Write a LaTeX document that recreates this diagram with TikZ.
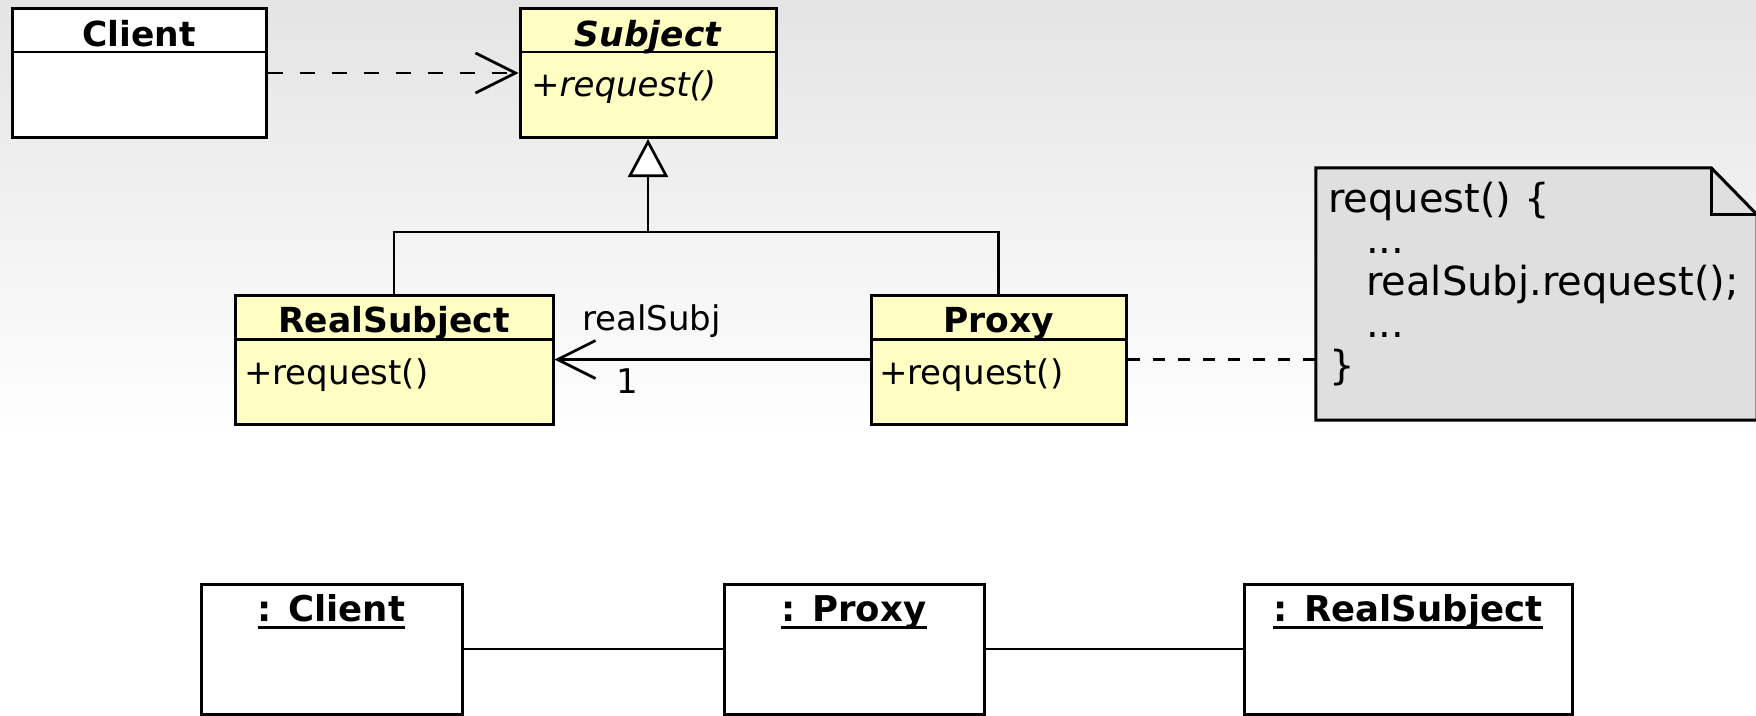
\documentclass[tikz,border=0pt]{standalone}
\usepackage{fontspec}
\setmainfont{DejaVu Sans}
\usetikzlibrary{arrows.meta,calc}
\definecolor{clsyellow}{RGB}{255,255,196}
\definecolor{notegray}{RGB}{223,223,223}
\definecolor{bgtop}{RGB}{228,228,228}
\begin{document}
\begin{tikzpicture}[x=1pt,y=-1pt,
  classbox/.style={draw=black, line width=3pt, fill=clsyellow, inner sep=0pt, minimum height=129pt},
  objbox/.style={draw=black, line width=3pt, fill=white, inner sep=0pt, minimum height=130pt},
  divider/.style={line width=2.5pt},
  cltitle/.style={font=\fontsize{34.5}{40}\selectfont\bfseries, anchor=base, inner sep=0pt},
  objtitle/.style={font=\fontsize{35.5}{40}\selectfont\bfseries, anchor=base, inner sep=0pt},
  member/.style={font=\fontsize{34}{40}\selectfont, anchor=base west, inner sep=0pt},
  notetext/.style={font=\fontsize{40}{42}\selectfont, anchor=base west, inner sep=0pt},
  conn/.style={line width=2.7pt},
  ulinestyle/.style={line width=3pt}
]
\useasboundingbox (0,0) rectangle (1756,715);
\shade[top color=bgtop, bottom color=white] (0,0) rectangle (1756,440);
\fill[white] (0,440) rectangle (1756,715);

% Client
\node[classbox, fill=white, minimum width=254pt] (client) at (139,73) {};
\draw[divider] ($(client.north west)+(0,45)$) -- ($(client.north east)+(0,45)$);
\node[cltitle] (clientT) at (139,46) {Client};

% Subject
\node[classbox, minimum width=256pt] (subject) at (648,73) {};
\draw[divider] ($(subject.north west)+(0,45)$) -- ($(subject.north east)+(0,45)$);
\node[cltitle, font=\fontsize{34.5}{40}\selectfont\bfseries\itshape] (subjectT) at (648,46) {Subject};
\node[member] (subjectM) at (531,96) {\itshape +request()};

% RealSubject
\node[classbox, minimum width=318pt] (realsub) at (394,359.5) {};
\draw[divider] ($(realsub.north west)+(0,46)$) -- ($(realsub.north east)+(0,46)$);
\node[cltitle] (realsubT) at (394,332) {RealSubject};
\node[member] (realsubM) at (244,384) {+request()};

% Proxy
\node[classbox, minimum width=255pt] (proxy) at (998.5,359.5) {};
\draw[divider] ($(proxy.north west)+(0,46)$) -- ($(proxy.north east)+(0,46)$);
\node[cltitle] (proxyT) at (998.5,332) {Proxy};
\node[member] (proxyM) at (879,384) {+request()};

% generalization
\coordinate (join) at (648,232);
\draw[conn, -{Triangle[length=38pt, width=40pt, fill=white]}] (join) -- (subject.south);
\draw[conn] (realsub.north) |- (join) -| (proxy.north);

% dependency
\draw[conn, dash pattern=on 15pt off 17pt, -{Straight Barb[length=40pt, width=40pt]}] (client.east) -- (subject.west);

% association
\draw[conn, -{Straight Barb[length=38pt, width=38pt]}] (proxy.west) -- (realsub.east);
\node[member] (roleLabel) at (582,330) {realSubj};
\node[member] (multLabel) at (616,393) {1};

% note
\node[inner sep=0pt, minimum width=441pt, minimum height=252pt] (note) at (1536.5,294) {};
\draw[line width=3pt, fill=notegray] (note.north west) -- ($(note.north east)+(-46,0)$) -- ($(note.north east)+(0,47)$) -- (note.south east) -- (note.south west) -- cycle;
\draw[line width=3pt] ($(note.north east)+(-46,0)$) -- ($(note.north east)+(-46,47)$) -- ($(note.north east)+(0,47)$);
\node[notetext] (nl1) at (1328,212) {request() \{};
\node[notetext] (nl2) at (1366,253) {...};
\node[notetext] (nl3) at (1366,295) {realSubj.request();};
\node[notetext] (nl4) at (1366,337) {...};
\node[notetext] (nl5) at (1329,379) {\}};
\draw[conn, dash pattern=on 12pt off 13pt] (proxy.east) -- (note.west |- proxy.east);

% object diagram
\node[objbox, minimum width=261pt] (oclient) at (331.5,649) {};
\node[objbox, minimum width=260pt] (oproxy) at (854,649) {};
\node[objbox, minimum width=328pt] (oreal) at (1408,649) {};
\node[objtitle] (oclientT) at (331.5,621) {: Client};
\node[objtitle] (oproxyT) at (854,621) {: Proxy};
\node[objtitle] (orealT) at (1408,621) {: RealSubject};
\draw[ulinestyle] ($(oclientT.base west)+(0,6)$) -- ($(oclientT.base east)+(0,6)$);
\draw[ulinestyle] ($(oproxyT.base west)+(0,6)$) -- ($(oproxyT.base east)+(0,6)$);
\draw[ulinestyle] ($(orealT.base west)+(0,6)$) -- ($(orealT.base east)+(0,6)$);
\draw[conn] (oclient.east) -- (oproxy.west);
\draw[conn] (oproxy.east) -- (oreal.west);
\end{tikzpicture}
\end{document}
